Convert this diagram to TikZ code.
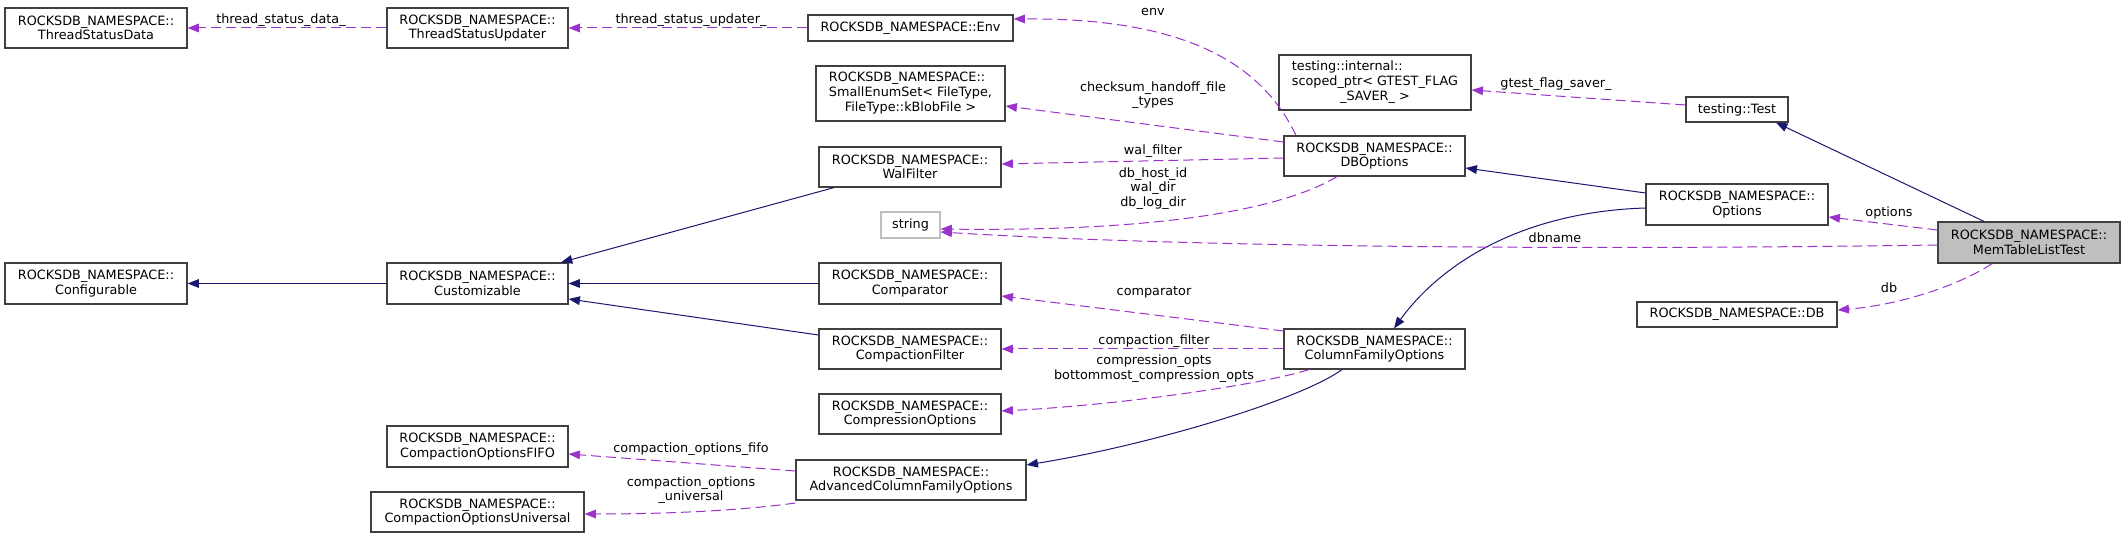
\documentclass[tikz,border=0pt]{standalone}
\usepackage{fontspec}
\setmainfont{DejaVu Sans}
\usetikzlibrary{arrows.meta}
\definecolor{dep}{HTML}{9A32CD}
\definecolor{inh}{HTML}{191970}
\definecolor{boxgray}{HTML}{404040}
\definecolor{lightbox}{HTML}{BFBFBF}
\newcommand\dgfont{\fontsize{9.6}{11}\selectfont}
\begin{document}
\begin{tikzpicture}[x=0.75pt,y=-0.75pt,
  cls/.style={draw=boxgray, line width=0.9pt, fill=white, inner sep=0pt, align=center, font=\dgfont},
  lbl/.style={inner sep=0pt, align=center, font=\dgfont},
  depedge/.style={draw=dep, line width=0.75pt, dash pattern=on 7.5pt off 3.75pt, -{Triangle[length=8.5pt,width=6.5pt,fill=dep]}},
  inhedge/.style={draw=inh, line width=0.75pt, -{Triangle[length=8.5pt,width=6.5pt,fill=inh]}}]
\fill[white] (0,0) rectangle (2125,538);
\useasboundingbox (0,0) rectangle (2125,538);
% boxes: corners in px
\newcommand\bx[7][]{\node[cls,#1,minimum width={(#5-#3)*0.75pt},minimum height={(#6-#4)*0.75pt}] (#2) at ({(#3+#5)/2},{(#4+#6)/2}) {#7};}
\bx{tsd}{5}{8}{187}{48}{ROCKSDB\_NAMESPACE::\\ThreadStatusData}
\bx{tsu}{387}{8}{568}{48}{ROCKSDB\_NAMESPACE::\\ThreadStatusUpdater}
\bx{env}{808}{15}{1013}{41}{ROCKSDB\_NAMESPACE::Env}
\bx{ses}{816}{66}{1005}{121}{\begin{tabular}{@{}l@{}}ROCKSDB\_NAMESPACE::\\SmallEnumSet< FileType,\\\multicolumn{1}{@{}c@{}}{FileType::kBlobFile >}\end{tabular}}
\bx{sptr}{1279}{55}{1471}{110}{\begin{tabular}{@{}l@{}}testing::internal::\\scoped\_ptr< GTEST\_FLAG\\\multicolumn{1}{@{}c@{}}{\_SAVER\_ >}\end{tabular}}
\bx{test}{1686}{97}{1788}{122}{testing::Test}
\bx{wal}{819}{147}{1001}{187}{ROCKSDB\_NAMESPACE::\\WalFilter}
\bx{dbo}{1284}{136}{1465}{176}{ROCKSDB\_NAMESPACE::\\DBOptions}
\bx{opt}{1646}{184}{1828}{225}{ROCKSDB\_NAMESPACE::\\Options}
\bx[draw=lightbox]{str}{881}{212}{940}{238}{string}
\bx[fill=lightbox]{mtlt}{1938}{222}{2120}{263}{ROCKSDB\_NAMESPACE::\\MemTableListTest}
\bx{conf}{5}{263}{187}{304}{ROCKSDB\_NAMESPACE::\\Configurable}
\bx{cust}{387}{263}{568}{304}{ROCKSDB\_NAMESPACE::\\Customizable}
\bx{cmp}{819}{263}{1001}{304}{ROCKSDB\_NAMESPACE::\\Comparator}
\bx{db}{1637}{302}{1837}{327}{ROCKSDB\_NAMESPACE::DB}
\bx{cf}{819}{329}{1001}{369}{ROCKSDB\_NAMESPACE::\\CompactionFilter}
\bx{cfo}{1284}{329}{1465}{369}{ROCKSDB\_NAMESPACE::\\ColumnFamilyOptions}
\bx{co}{819}{394}{1001}{434}{ROCKSDB\_NAMESPACE::\\CompressionOptions}
\bx{fifo}{387}{426}{568}{467}{ROCKSDB\_NAMESPACE::\\CompactionOptionsFIFO}
\bx{adv}{796}{460}{1026}{500}{ROCKSDB\_NAMESPACE::\\AdvancedColumnFamilyOptions}
\bx{univ}{371}{492}{584}{532}{ROCKSDB\_NAMESPACE::\\CompactionOptionsUniversal}
% inheritance edges
\draw[inhedge] (cust.west) -- (conf.east);
\draw[inhedge] (cmp.west) -- (cust.east);
\draw[inhedge] (cf.west |- 0,335) -- (cust.east |- 0,299);
\draw[inhedge] (wal.south -| 834,0) -- (cust.north -| 561,0);
\draw[inhedge] (opt.west |- 0,193) -- (dbo.east |- 0,168);
\draw[inhedge] (opt.west |- 0,208) .. controls (1520,212) and (1440,265) .. (cfo.north -| 1394,0);
\draw[inhedge] (cfo.south -| 1342,0) .. controls (1300,400) and (1150,445) .. (adv.east |- 0,465);
\draw[inhedge] (mtlt.north -| 1984,0) -- (test.south -| 1776,0);
% usage edges
\draw[depedge] (tsu.west) -- (tsd.east);
\draw[depedge] (env.west) -- (tsu.east);
\draw[depedge] (dbo.north -| 1296,0) .. controls (1260,60) and (1180,18) .. (env.east |- 0,19);
\draw[depedge] (dbo.west |- 0,142) -- (ses.east |- 0,106);
\draw[depedge] (dbo.west |- 0,158) -- (wal.east |- 0,164);
\draw[depedge] (dbo.south -| 1337,0) .. controls (1290,205) and (1180,232) .. (str.east |- 0,229);
\draw[depedge] (mtlt.west |- 0,245) .. controls (1600,250) and (1200,248) .. (str.east |- 0,232);
\draw[depedge] (test.west |- 0,105) -- (sptr.east |- 0,90);
\draw[depedge] (mtlt.west |- 0,230) -- (opt.east |- 0,217);
\draw[depedge] (mtlt.south -| 1992,0) .. controls (1960,285) and (1900,305) .. (db.east |- 0,310);
\draw[depedge] (cfo.west |- 0,331) -- (cmp.east |- 0,296);
\draw[depedge] (cfo.west) -- (cf.east);
\draw[depedge] (cfo.south -| 1309,0) .. controls (1260,385) and (1120,405) .. (co.east |- 0,411);
\draw[depedge] (adv.west |- 0,471) -- (fifo.east |- 0,454);
\draw[depedge] (adv.west |- 0,503) .. controls (730,512) and (650,514) .. (univ.east |- 0,514);
% labels
\node[lbl] (l1) at (281,20) {thread\_status\_data\_};
\node[lbl] (l2) at (691,20) {thread\_status\_updater\_};
\node[lbl] (l3) at (1153,12) {env};
\node[lbl] (l4) at (1153,95) {checksum\_handoff\_file\\\_types};
\node[lbl] (l5) at (1153,151) {wal\_filter};
\node[lbl] (l6) at (1153,188.5) {db\_host\_id\\wal\_dir\\db\_log\_dir};
\node[lbl] (l7) at (1556,84) {gtest\_flag\_saver\_};
\node[lbl] (l8) at (1889,213) {options};
\node[lbl] (l9) at (1555,238) {dbname};
\node[lbl] (l10) at (1889,288) {db};
\node[lbl] (l11) at (1154,292) {comparator};
\node[lbl] (l12) at (1154,341) {compaction\_filter};
\node[lbl] (l13) at (1154,368.5) {compression\_opts\\bottommost\_compression\_opts};
\node[lbl] (l14) at (691,449) {compaction\_options\_fifo};
\node[lbl] (l15) at (691,490) {compaction\_options\\\_universal};
\end{tikzpicture}
\end{document}
